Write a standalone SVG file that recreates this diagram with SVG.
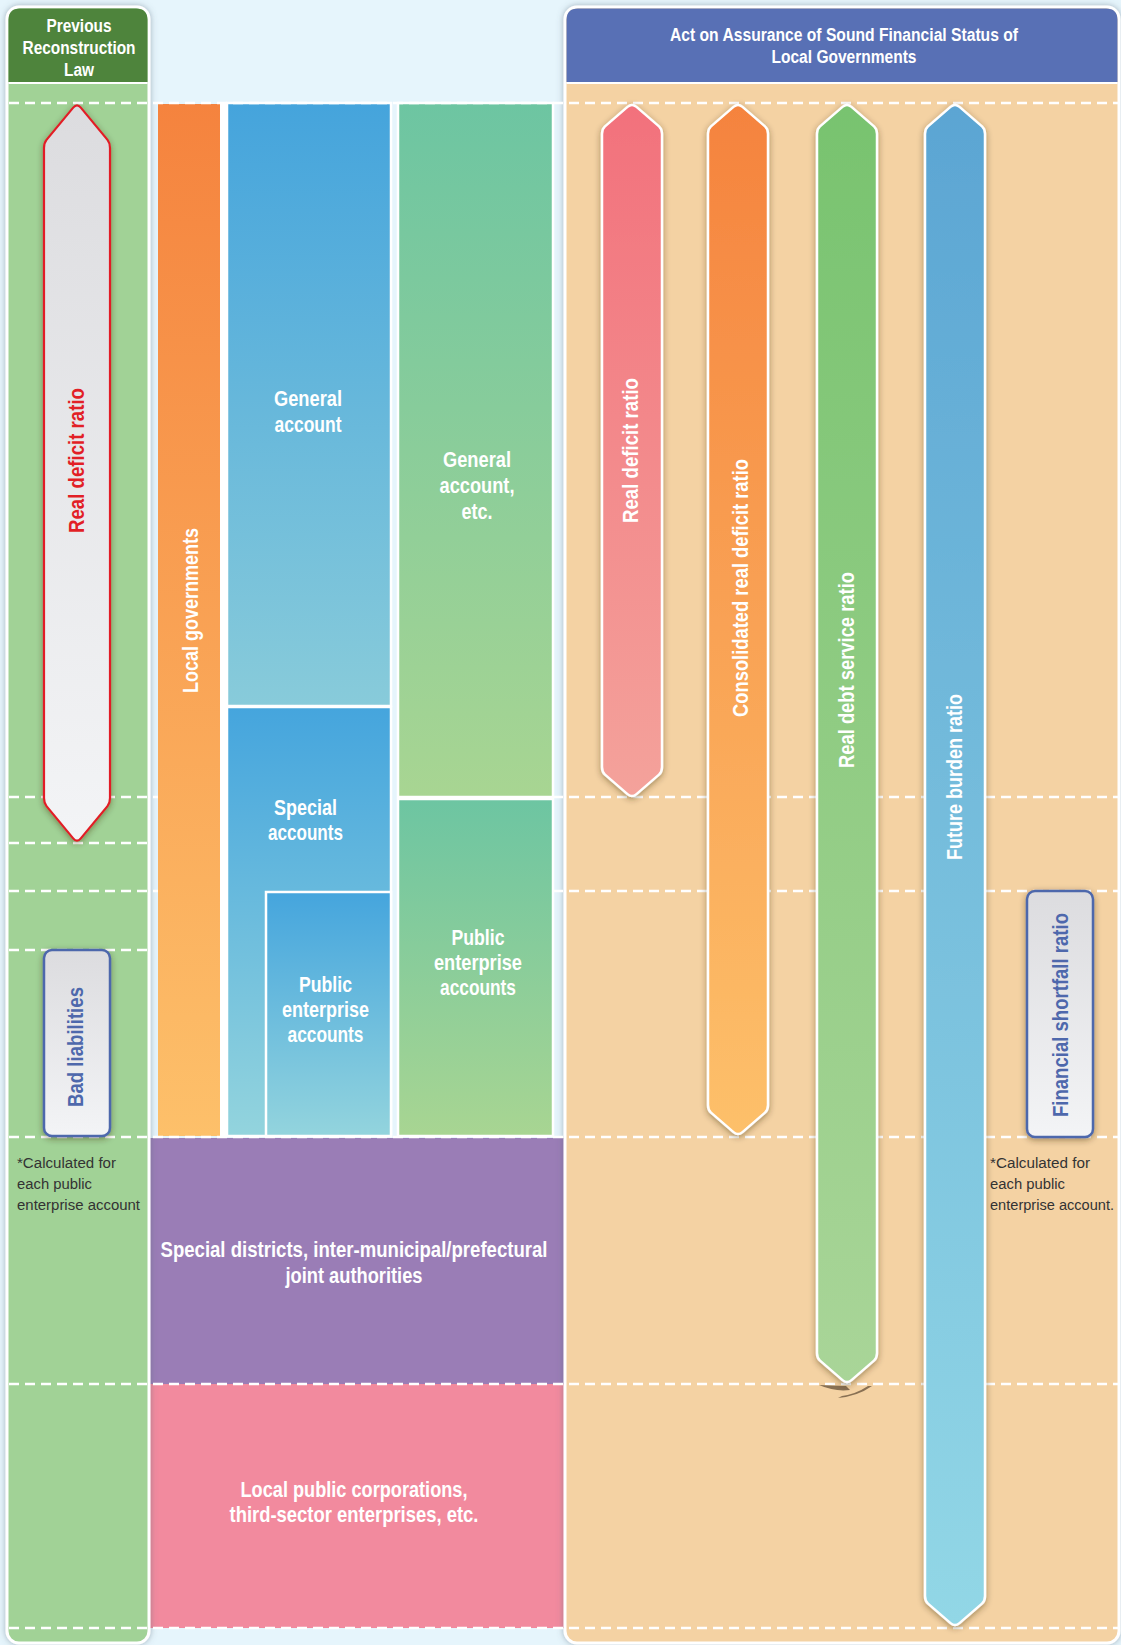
<svg xmlns="http://www.w3.org/2000/svg" width="1121" height="1645" viewBox="0 0 1121 1645">
<defs>
<style>
.t{font-family:"Liberation Sans",Arial,sans-serif;font-weight:bold;fill:#fff;text-anchor:middle}
.hd{font-size:18px}
.bx{font-size:22px}
.rt{font-size:22px}
.note{font-family:"Liberation Sans",Arial,sans-serif;font-size:15.5px;fill:#333}
.dash{stroke:#fff;stroke-width:2.5;stroke-dasharray:10 6;fill:none}
.wst{stroke:#fff;stroke-width:2.5}
.arr{stroke:#fff;stroke-width:2.5;filter:url(#sh)}
</style>
<filter id="sh" x="-50%" y="-10%" width="200%" height="120%"><feDropShadow dx="0" dy="2" stdDeviation="3" flood-color="#3a2a10" flood-opacity="0.45"/></filter>
<filter id="psh" x="-10%" y="-5%" width="120%" height="110%"><feDropShadow dx="0" dy="0" stdDeviation="3" flood-color="#556677" flood-opacity="0.5"/></filter>
<linearGradient id="gOr" x1="0" y1="0" x2="0" y2="1"><stop offset="0" stop-color="#F5833E"/><stop offset="1" stop-color="#FDC06A"/></linearGradient>
<linearGradient id="gBl" x1="0" y1="0" x2="0" y2="1"><stop offset="0" stop-color="#45A4DC"/><stop offset="1" stop-color="#88CBDA"/></linearGradient>
<linearGradient id="gBl2" x1="0" y1="0" x2="0" y2="1"><stop offset="0" stop-color="#45A5DD"/><stop offset="1" stop-color="#93D4DD"/></linearGradient>
<linearGradient id="gGr" x1="0" y1="0" x2="0" y2="1"><stop offset="0" stop-color="#6DC5A2"/><stop offset="1" stop-color="#A8D592"/></linearGradient>
<linearGradient id="gPk" x1="0" y1="0" x2="0" y2="1"><stop offset="0" stop-color="#F2717C"/><stop offset="1" stop-color="#F4A29B"/></linearGradient>
<linearGradient id="gGa" x1="0" y1="0" x2="0" y2="1"><stop offset="0" stop-color="#78C36F"/><stop offset="1" stop-color="#A9D598"/></linearGradient>
<linearGradient id="gBa" x1="0" y1="0" x2="0" y2="1"><stop offset="0" stop-color="#5BA5D3"/><stop offset="1" stop-color="#92D7E6"/></linearGradient>
<linearGradient id="gGy" x1="0" y1="0" x2="0" y2="1"><stop offset="0" stop-color="#DCDCDF"/><stop offset="1" stop-color="#F3F4F6"/></linearGradient>
</defs>
<rect x="0" y="0" width="1121" height="1645" fill="#E6F5FC"/>

<!-- middle blocks -->
<g id="special-districts"><rect x="145" y="1138" width="424" height="246" fill="#9A7DB6"/>
<text class="t bx" x="354" y="1257" textLength="387" lengthAdjust="spacingAndGlyphs">Special districts, inter-municipal/prefectural</text>
<text class="t bx" x="354" y="1283" textLength="137" lengthAdjust="spacingAndGlyphs">joint authorities</text></g>
<g id="local-public-corporations"><rect x="145" y="1384" width="424" height="244" fill="#F28A9E"/>
<text class="t bx" x="354" y="1497" textLength="227" lengthAdjust="spacingAndGlyphs">Local public corporations,</text>
<text class="t bx" x="354" y="1522" textLength="249" lengthAdjust="spacingAndGlyphs">third-sector enterprises, etc.</text></g>

<!-- left panel -->
<g id="left-panel">
<rect x="7" y="7" width="142" height="1636" rx="12" fill="#A1D296" stroke="#fff" stroke-width="3" filter="url(#psh)"/>
<path d="M8.5 82 V20 Q8.5 8.5 20 8.5 H136 Q147.5 8.5 147.5 20 V82 Z" fill="#4E843C"/>
<line x1="8.5" y1="83" x2="147.5" y2="83" stroke="#fff" stroke-width="2"/>
<text class="t hd" x="79" y="32" textLength="65" lengthAdjust="spacingAndGlyphs">Previous</text>
<text class="t hd" x="79" y="54" textLength="113" lengthAdjust="spacingAndGlyphs">Reconstruction</text>
<text class="t hd" x="79" y="76" textLength="30" lengthAdjust="spacingAndGlyphs">Law</text>
</g>

<!-- right panel -->
<g id="right-panel">
<rect x="565" y="7" width="554" height="1636" rx="12" fill="#F4D2A3" stroke="#fff" stroke-width="3" filter="url(#psh)"/>
<path d="M566.5 82 V20 Q566.5 8.5 578 8.5 H1106 Q1117.5 8.5 1117.5 20 V82 Z" fill="#5870B5"/>
<line x1="566.5" y1="83" x2="1117.5" y2="83" stroke="#fff" stroke-width="2"/>
<text class="t hd" x="844" y="41" textLength="348" lengthAdjust="spacingAndGlyphs">Act on Assurance of Sound Financial Status of</text>
<text class="t hd" x="844" y="63" textLength="145" lengthAdjust="spacingAndGlyphs">Local Governments</text>
</g>

<!-- panel dashed guides -->
<g id="guides-panels">
<line class="dash" x1="9" y1="797" x2="158" y2="797"/>
<line class="dash" x1="553" y1="797" x2="1118" y2="797"/>
<line class="dash" x1="9" y1="843" x2="148" y2="843"/>
<line class="dash" x1="9" y1="891" x2="158" y2="891"/>
<line class="dash" x1="553" y1="891" x2="1118" y2="891"/>
<line class="dash" x1="9" y1="950" x2="148" y2="950"/>
</g>

<!-- middle columns -->
<rect x="220" y="103" width="7" height="1034" fill="#fff"/>
<g id="local-governments"><rect x="158" y="104" width="62" height="1032" fill="url(#gOr)"/>
<text class="t rt" transform="translate(198,610.5) rotate(-90)" textLength="165" lengthAdjust="spacingAndGlyphs">Local governments</text></g>
<g id="general-account"><rect x="227" y="103" width="164" height="603" fill="url(#gBl)" class="wst"/>
<text class="t bx" x="308" y="406" textLength="68" lengthAdjust="spacingAndGlyphs">General</text>
<text class="t bx" x="308" y="432" textLength="67" lengthAdjust="spacingAndGlyphs">account</text></g>
<g id="special-accounts"><rect x="227" y="707" width="164" height="429" fill="url(#gBl2)" class="wst"/>
<text class="t bx" x="305.5" y="815" textLength="63" lengthAdjust="spacingAndGlyphs">Special</text>
<text class="t bx" x="305.5" y="840" textLength="75" lengthAdjust="spacingAndGlyphs">accounts</text></g>
<g id="public-enterprise-accounts-1"><rect x="266" y="892" width="125" height="244" fill="url(#gBl2)" class="wst"/>
<text class="t bx" x="325.5" y="992" textLength="53" lengthAdjust="spacingAndGlyphs">Public</text>
<text class="t bx" x="325.5" y="1017" textLength="87" lengthAdjust="spacingAndGlyphs">enterprise</text>
<text class="t bx" x="325.5" y="1042" textLength="76" lengthAdjust="spacingAndGlyphs">accounts</text></g>
<g id="general-account-etc"><rect x="398" y="103" width="155" height="694" fill="url(#gGr)" class="wst"/>
<text class="t bx" x="477" y="467" textLength="68" lengthAdjust="spacingAndGlyphs">General</text>
<text class="t bx" x="477" y="493" textLength="75" lengthAdjust="spacingAndGlyphs">account,</text>
<text class="t bx" x="477" y="519" textLength="31" lengthAdjust="spacingAndGlyphs">etc.</text></g>
<g id="public-enterprise-accounts-2"><rect x="398" y="799" width="155" height="337" fill="url(#gGr)" class="wst"/>
<text class="t bx" x="478" y="945" textLength="53" lengthAdjust="spacingAndGlyphs">Public</text>
<text class="t bx" x="478" y="970" textLength="88" lengthAdjust="spacingAndGlyphs">enterprise</text>
<text class="t bx" x="478" y="995" textLength="76" lengthAdjust="spacingAndGlyphs">accounts</text></g>

<!-- full-width dashed guides -->
<g id="guides">
<line class="dash" x1="9" y1="103" x2="1118" y2="103"/>
<line class="dash" x1="9" y1="1137" x2="1118" y2="1137"/>
<line class="dash" x1="9" y1="1384" x2="1118" y2="1384"/>
<line class="dash" x1="9" y1="1628" x2="1118" y2="1628"/>
</g>

<!-- left indicators -->
<g id="left-real-deficit-ratio">
<path d="M73.2 107.6 Q77 103 80.8 107.6 L107.5 139.9 Q110 143 110 148 L110 798 Q110 803 107.5 806.1 L80.8 838.4 Q77 843 73.2 838.4 L46.5 806.1 Q44 803 44 798 L44 148 Q44 143 46.5 139.9 Z" fill="url(#gGy)" stroke="#E21F26" stroke-width="2.2" filter="url(#sh)"/>
<text class="t rt" transform="translate(84,460.5) rotate(-90)" style="fill:#E21F26" textLength="145" lengthAdjust="spacingAndGlyphs">Real deficit ratio</text>
</g>
<g id="bad-liabilities">
<rect x="44" y="950" width="66" height="186" rx="8" fill="url(#gGy)" stroke="#4E68AC" stroke-width="2.5" filter="url(#sh)"/>
<text class="t rt" transform="translate(83,1047) rotate(-90)" style="fill:#4E68AC" textLength="120" lengthAdjust="spacingAndGlyphs">Bad liabilities</text>
</g>
<g id="left-note">
<text class="note" x="17" y="1168" textLength="99" lengthAdjust="spacingAndGlyphs">*Calculated for</text>
<text class="note" x="17" y="1189" textLength="75" lengthAdjust="spacingAndGlyphs">each public</text>
<text class="note" x="17" y="1210" textLength="123" lengthAdjust="spacingAndGlyphs">enterprise account</text>
</g>

<!-- right indicators -->
<g id="right-real-deficit-ratio">
<path class="arr" fill="url(#gPk)" d="M627.5 106.9 Q632 103 636.5 106.9 L659 126.4 Q662 129 662 134 L662 767 Q662 772 659 774.6 L636.5 794.1 Q632 798 627.5 794.1 L605 774.6 Q602 772 602 767 L602 134 Q602 129 605 126.4 Z"/>
<text class="t rt" transform="translate(638,450.5) rotate(-90)" textLength="145" lengthAdjust="spacingAndGlyphs">Real deficit ratio</text>
</g>
<g id="consolidated-real-deficit-ratio">
<path class="arr" fill="url(#gOr)" d="M733.5 106.9 Q738 103 742.5 106.9 L765 126.4 Q768 129 768 134 L768 1105 Q768 1110 765 1112.6 L742.5 1132.1 Q738 1136 733.5 1132.1 L711 1112.6 Q708 1110 708 1105 L708 134 Q708 129 711 126.4 Z"/>
<text class="t rt" transform="translate(748,588) rotate(-90)" textLength="258" lengthAdjust="spacingAndGlyphs">Consolidated real deficit ratio</text>
</g>
<g id="real-debt-service-ratio">
<path d="M819 1385 Q835 1392 850 1390 L846 1386 Z" fill="#5a4630" opacity="0.7"/>
<path d="M838 1398 Q858 1396 872 1386 L868 1386 Q856 1394 842 1396 Z" fill="#5a4630" opacity="0.7"/>
<path class="arr" fill="url(#gGa)" d="M842.5 106.9 Q847 103 851.5 106.9 L874 126.4 Q877 129 877 134 L877 1353 Q877 1358 874 1360.6 L851.5 1380.1 Q847 1384 842.5 1380.1 L820 1360.6 Q817 1358 817 1353 L817 134 Q817 129 820 126.4 Z"/>
<text class="t rt" transform="translate(854,670) rotate(-90)" textLength="196" lengthAdjust="spacingAndGlyphs">Real debt service ratio</text>
</g>
<g id="future-burden-ratio">
<path class="arr" fill="url(#gBa)" d="M950.5 106.9 Q955 103 959.5 106.9 L982 126.4 Q985 129 985 134 L985 1596 Q985 1601 982 1603.6 L959.5 1623.1 Q955 1627 950.5 1623.1 L928 1603.6 Q925 1601 925 1596 L925 134 Q925 129 928 126.4 Z"/>
<text class="t rt" transform="translate(962,777) rotate(-90)" textLength="166" lengthAdjust="spacingAndGlyphs">Future burden ratio</text>
</g>
<g id="financial-shortfall-ratio">
<rect x="1027" y="891" width="66" height="246" rx="8" fill="url(#gGy)" stroke="#4E68AC" stroke-width="2.5" filter="url(#sh)"/>
<text class="t rt" transform="translate(1068,1015) rotate(-90)" style="fill:#4E68AC" textLength="204" lengthAdjust="spacingAndGlyphs">Financial shortfall ratio</text>
</g>
<g id="right-note">
<text class="note" x="990" y="1168" textLength="100" lengthAdjust="spacingAndGlyphs">*Calculated for</text>
<text class="note" x="990" y="1189" textLength="75" lengthAdjust="spacingAndGlyphs">each public</text>
<text class="note" x="990" y="1210" textLength="124" lengthAdjust="spacingAndGlyphs">enterprise account.</text>
</g>
<g id="connectors"/>
</svg>
